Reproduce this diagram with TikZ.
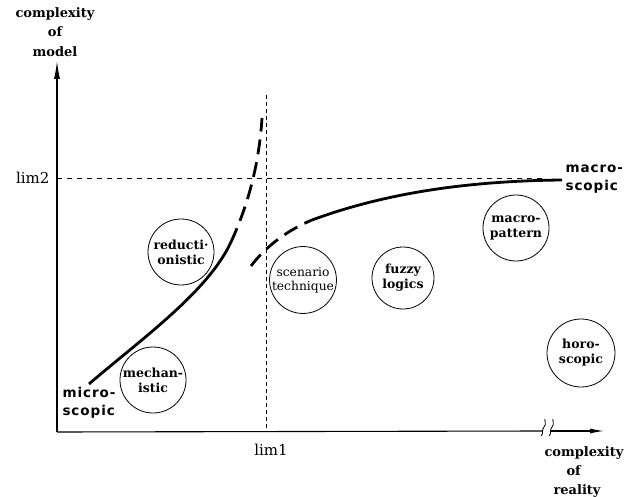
\documentclass[tikz,border=0pt]{standalone}
\usepackage{fontspec}
\setmainfont{DejaVu Serif}
\newfontfamily\spacedfont[LetterSpace=7]{DejaVu Sans}
\usetikzlibrary{arrows.meta}
\begin{document}
\begin{tikzpicture}[x=1pt,y=-1pt,
  axis/.style={line width=1.1pt},
  guide/.style={line width=0.6pt,dash pattern=on 5pt off 5pt},
  curve/.style={line width=2.8pt},
  dcurve/.style={line width=2.8pt,dash pattern=on 15pt off 8pt},
  circ/.style={circle,draw,line width=0.8pt,minimum size=66pt,inner sep=0pt,align=center,font=\fontsize{12.5}{15}\selectfont\bfseries},
  axlabel/.style={align=center,font=\fontsize{13}{19.5}\selectfont\bfseries},
  scalelabel/.style={font=\fontsize{15}{17}\selectfont},
  endlabel/.style={align=left,font=\fontsize{13.5}{17.5}\selectfont\spacedfont\bfseries}
]
\useasboundingbox (0,0) rectangle (637,497);
% axes
\coordinate (O) at (57,432);
\coordinate (ytop) at (57,61);
\coordinate (xb1) at (543,431);
\coordinate (xb2) at (551,431);
\coordinate (xend) at (604,431);
\draw[axis,-{Latex[length=18pt,width=6pt]}] (O) -- (ytop);
\draw[axis] (O) -- (xb1);
\draw[axis,-{Latex[length=14pt,width=5pt]}] (xb2) -- (xend);
\draw[line width=0.8pt] (xb1)+(-2,5) .. controls +(3,-2) and +(-3,3) .. +(1,-4) .. controls +(3,-3) and +(-1,1) .. +(2,-12);
\draw[line width=0.8pt] (xb2)+(-2,5) .. controls +(3,-2) and +(-3,3) .. +(1,-4) .. controls +(3,-3) and +(-1,1) .. +(2,-12);
% labels
\node[axlabel] (ylab) at (55,32) {complexity\\of\\model};
\node[axlabel,align=left,anchor=north west,font=\fontsize{13}{19}\selectfont\bfseries] (xlab) at (541,443) {complexity\\\hspace*{22pt}of\\\hspace*{9pt}reality};
% limits
\coordinate (l2a) at (57,178);
\coordinate (l2b) at (545,178);
\coordinate (l1a) at (266,95);
\coordinate (l1b) at (266,432);
\draw[guide] (l2a) -- (l2b);
\draw[line width=0.6pt,dash pattern=on 4pt off 3pt] (l1a) -- (l1b);
\node[scalelabel,anchor=east] (lim2) at (53,178) {lim2};
\node[scalelabel] (lim1) at (271,450) {lim1};
% curves
\draw[curve] (89,384) .. controls (140,340) and (208,292) .. (231,242);
\draw[dcurve] (231,242) .. controls (248,205) and (259,165) .. (262,118);
\draw[dcurve] (251,266) .. controls (266,246) and (288,230) .. (312,220);
\draw[curve] (312,220) .. controls (380,195) and (460,181) .. (562,180);
% endpoint labels
\node[endlabel,anchor=west] (macro) at (562,179) {macro-\\scopic};
\node[endlabel,anchor=west] (micro) at (59,403) {micro-\\scopic};
% circles
\node[circ] (red) at (181,252) {reducti·\\onistic};
\node[circ] (mech) at (153,380) {mechan-\\istic};
\node[circ,font=\fontsize{12.3}{14}\selectfont] (scen) at (303,280) {scenario\\technique};
\node[circ,minimum size=62pt] (fuzzy) at (403,278) {fuzzy\\logics};
\node[circ] (mpat) at (516,228) {macro-\\pattern};
\node[circ,minimum size=68pt] (horo) at (581,353) {horo-\\scopic};
\end{tikzpicture}
\end{document}
